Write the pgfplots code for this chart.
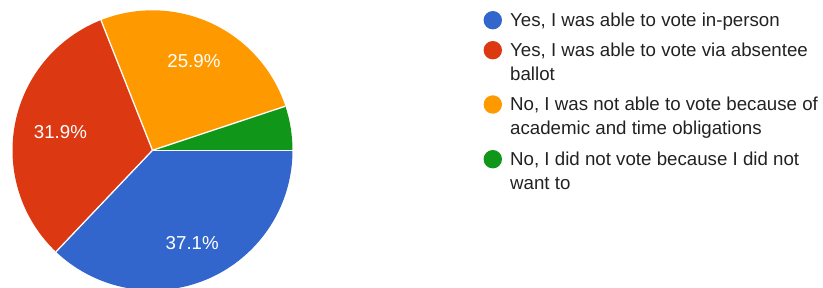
\documentclass[border=0pt]{standalone}
\usepackage{pgfplots}
\pgfplotsset{compat=1.18}
\usepackage{pgfplotstable}
\usepackage{fontspec}
\setmainfont{Liberation Sans}
\definecolor{cblue}{HTML}{3366CC}
\definecolor{cred}{HTML}{DC3912}
\definecolor{corange}{HTML}{FF9900}
\definecolor{cgreen}{HTML}{109618}
\definecolor{ctext}{HTML}{222222}

% share of answers, in percent (order: in-person, absentee, obligations, did not want)
\pgfplotstableread{
pct
37.1
31.9
25.9
5.1
}\piedata

\pgfplotstablegetelem{0}{pct}\of\piedata \let\pA\pgfplotsretval
\pgfplotstablegetelem{1}{pct}\of\piedata \let\pB\pgfplotsretval
\pgfplotstablegetelem{2}{pct}\of\piedata \let\pC\pgfplotsretval
\pgfplotstablegetelem{3}{pct}\of\piedata \let\pD\pgfplotsretval

\def\cx{152.5}
\def\cy{136.7}
\def\R{140}
\pgfmathsetmacro\sA{0}
\pgfmathsetmacro\sB{\sA-3.6*\pA}
\pgfmathsetmacro\sC{\sB-3.6*\pB}
\pgfmathsetmacro\sD{\sC-3.6*\pC}
\pgfmathsetmacro\sE{\sD-3.6*\pD}
\pgfmathsetmacro\mA{(\sA+\sB)/2}
\pgfmathsetmacro\mB{(\sB+\sC)/2}
\pgfmathsetmacro\mC{(\sC+\sD)/2}
\pgfmathsetmacro\lAx{\cx+0.72*\R*cos(\mA)}
\pgfmathsetmacro\lAy{\cy+0.72*\R*sin(\mA)}
\pgfmathsetmacro\lBx{\cx+0.67*\R*cos(\mB)}
\pgfmathsetmacro\lBy{\cy+0.67*\R*sin(\mB)}
\pgfmathsetmacro\lCx{\cx+0.70*\R*cos(\mC)}
\pgfmathsetmacro\lCy{\cy+0.70*\R*sin(\mC)}

\begin{document}
\begin{tikzpicture}[x=1pt,y=1pt]
\begin{axis}[
  hide axis,
  x=1pt, y=1pt,
  xmin=0, xmax=823, ymin=0, ymax=287,
  scale only axis,
  anchor=south west,
  at={(0,0)},
]
\addplot[draw=none] coordinates {(0,0) (823,287)};
% pie slices (clockwise from 3 o'clock)
\fill[cblue] (axis cs:\cx,\cy) -- ++(\sA:\R pt) arc[start angle=\sA, end angle=\sB, radius=\R pt] -- cycle;
\fill[cred] (axis cs:\cx,\cy) -- ++(\sB:\R pt) arc[start angle=\sB, end angle=\sC, radius=\R pt] -- cycle;
\fill[corange] (axis cs:\cx,\cy) -- ++(\sC:\R pt) arc[start angle=\sC, end angle=\sD, radius=\R pt] -- cycle;
\fill[cgreen] (axis cs:\cx,\cy) -- ++(\sD:\R pt) arc[start angle=\sD, end angle=\sE, radius=\R pt] -- cycle;
% separators
\draw[white, line width=1.3pt] (axis cs:\cx,\cy) -- ++(\sA:\R pt);
\draw[white, line width=1.3pt] (axis cs:\cx,\cy) -- ++(\sB:\R pt);
\draw[white, line width=1.3pt] (axis cs:\cx,\cy) -- ++(\sC:\R pt);
\draw[white, line width=1.3pt] (axis cs:\cx,\cy) -- ++(\sD:\R pt);
% slice labels
\node[white, font=\fontsize{18.7}{22}\selectfont] at (axis cs:\lAx,\lAy) {\pA\%};
\node[white, font=\fontsize{18.7}{22}\selectfont] at (axis cs:\lBx,\lBy) {\pB\%};
\node[white, font=\fontsize{18.7}{22}\selectfont] at (axis cs:\lCx,\lCy) {\pC\%};
% legend
\fill[cblue]   (axis cs:492.8,266.8) circle[radius=9.2pt];
\fill[cred]    (axis cs:492.8,236.8) circle[radius=9.2pt];
\fill[corange] (axis cs:492.8,182.5) circle[radius=9.2pt];
\fill[cgreen]  (axis cs:492.8,127.8) circle[radius=9.2pt];
\begin{scope}[every node/.style={anchor=base west, inner sep=0pt, text=ctext, font=\fontsize{18.7}{22}\selectfont}]
\node at (axis cs:510,260.3) {Yes, I was able to vote in-person};
\node at (axis cs:510,230.3) {Yes, I was able to vote via absentee};
\node at (axis cs:510,206.0) {ballot};
\node at (axis cs:510,176.0) {No, I was not able to vote because of};
\node at (axis cs:510,152.0) {academic and time obligations};
\node at (axis cs:510,121.3) {No, I did not vote because I did not};
\node at (axis cs:510,97.7) {want to};
\end{scope}
\end{axis}
\pgfresetboundingbox
\useasboundingbox (0,0) rectangle (823,287);
\end{tikzpicture}
\end{document}
